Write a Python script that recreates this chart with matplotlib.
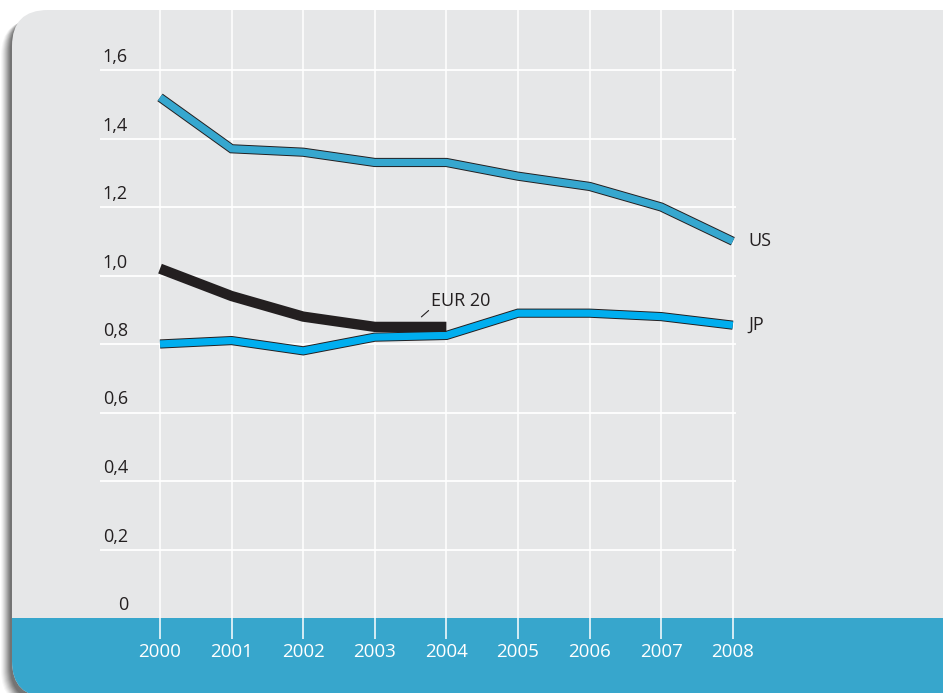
import matplotlib
matplotlib.use("Agg")
import matplotlib.pyplot as plt
from matplotlib.patches import FancyBboxPatch, Rectangle
import matplotlib.patheffects as pe

years = [2000, 2001, 2002, 2003, 2004, 2005, 2006, 2007, 2008]
us = [1.52, 1.37, 1.36, 1.33, 1.33, 1.29, 1.26, 1.20, 1.10]
jp = [0.80, 0.81, 0.78, 0.82, 0.825, 0.89, 0.89, 0.88, 0.855]
eur_years = [2000, 2001, 2002, 2003, 2004]
eur20 = [1.02, 0.94, 0.88, 0.85, 0.85]
yticks = [0, 0.2, 0.4, 0.6, 0.8, 1.0, 1.2, 1.4, 1.6]
ytick_labels = ["0", "0,2", "0,4", "0,6", "0,8", "1,0", "1,2", "1,4", "1,6"]

FONT = "Open Sans"
W, H = 943, 693
fig = plt.figure(figsize=(W / 100, H / 100), dpi=100)
fig.patch.set_facecolor("white")

# background axes in pixel coordinates
bg = fig.add_axes([0, 0, 1, 1])
bg.set_xlim(0, W)
bg.set_ylim(H, 0)
bg.axis("off")

card_x0, card_y0 = 12, 10
card_w, card_h = W + 60 - card_x0, 697 - card_y0
RS = 36
# shadow on left
for i, a in enumerate([0.03, 0.04, 0.05, 0.06, 0.07, 0.08, 0.09, 0.10, 0.10, 0.10]):
    off = 11 - i
    sh = FancyBboxPatch((card_x0 - off, card_y0 + 4 + off * 0.5), card_w, card_h,
                        boxstyle="round,pad=0,rounding_size=%d" % RS,
                        facecolor="black", edgecolor="none", alpha=a)
    bg.add_patch(sh)
card = FancyBboxPatch((card_x0, card_y0), card_w, card_h,
                      boxstyle="round,pad=0,rounding_size=%d" % RS,
                      facecolor="#e6e7e8", edgecolor="none")
bg.add_patch(card)
band = Rectangle((0, 618), W + 100, 200, facecolor="#37a6cc", edgecolor="none")
bg.add_patch(band)
band.set_clip_path(card)

# data axes mapped onto full figure
px_per_year = 71.6
px_per_unit = 342.5
x0_data = 2000 - 160 / px_per_year
x1_data = x0_data + W / px_per_year
y_top = 618 / px_per_unit
y_bot = (618 - H) / px_per_unit
ax = fig.add_axes([0, 0, 1, 1])
ax.set_xlim(x0_data, x1_data)
ax.set_ylim(y_bot, y_top)
ax.patch.set_alpha(0)
ax.axis("off")

grid_left = x0_data + 100 / px_per_year
grid_right = 2008 + 3 / px_per_year
top_val = (618 - 10) / px_per_unit
bottom_val = (618 - 639) / px_per_unit

for v in yticks[1:]:
    ax.plot([grid_left, grid_right], [v, v], color="white", lw=1.3, zorder=1,
            solid_capstyle="butt")
for yr in years:
    ax.plot([yr, yr], [bottom_val, top_val], color="white", lw=1.1, zorder=1,
            solid_capstyle="butt")

for v, lab in zip(yticks, ytick_labels):
    ax.text(x0_data + 128 / px_per_year, v + 4 / px_per_unit, lab, ha="right",
            va="bottom", fontsize=13, family=FONT, color="#231f20")

for yr in years:
    ax.text(yr, (618 - 652) / px_per_unit, str(yr), ha="center", va="center",
            fontsize=13.5, family=FONT, color="white")

def outlined(xs, ys, color, width):
    ax.plot(xs, ys, color=color, lw=width, solid_capstyle="butt",
            solid_joinstyle="miter", zorder=3,
            path_effects=[pe.Stroke(linewidth=width + 1.4, foreground="#231f20",
                                    capstyle="butt", joinstyle="miter"),
                          pe.Normal()])

outlined(years, us, "#36a7cf", 5.2)
outlined(years, jp, "#00aeef", 5.2)
ax.plot(eur_years, eur20, color="#231f20", lw=7.4, solid_capstyle="butt",
        solid_joinstyle="miter", zorder=4)

ax.text(2008 + 16 / px_per_year, us[-1], "US", ha="left", va="center",
        fontsize=13, family=FONT, color="#231f20")
ax.text(2008 + 16 / px_per_year, jp[-1], "JP", ha="left", va="center",
        fontsize=13, family=FONT, color="#231f20")
ax.annotate("EUR 20", xy=(2004 - 25 / px_per_year, eur20[-1] + 10 / px_per_unit),
            xytext=(2004 - 15 / px_per_year, eur20[-1] + 26 / px_per_unit),
            ha="left", va="center", fontsize=13, family=FONT, color="#231f20",
            arrowprops=dict(arrowstyle="-", color="#231f20", lw=0.8,
                            shrinkA=0, shrinkB=0,
                            relpos=(0, 0.1)))

fig.savefig("out.png", dpi=100, facecolor="white")
